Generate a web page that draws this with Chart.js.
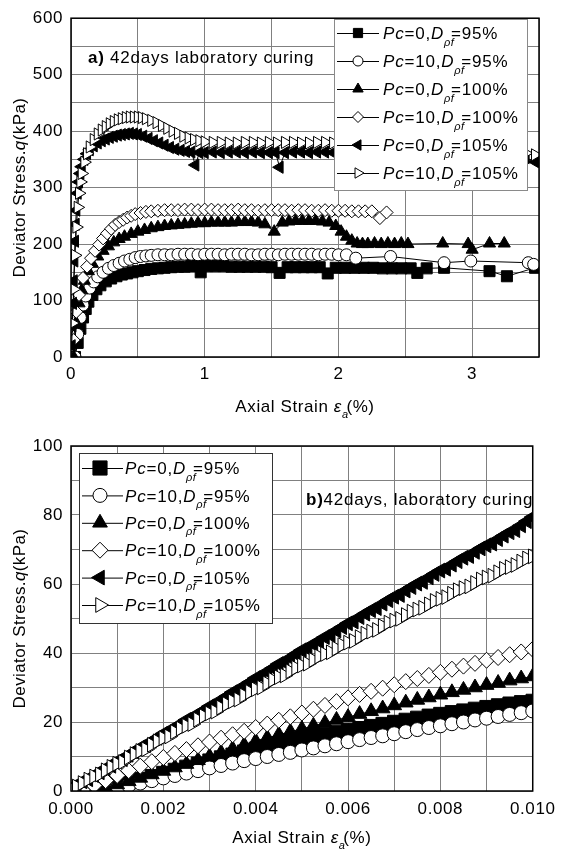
<!DOCTYPE html>
<html>
<head>
<meta charset="utf-8">
<script src="https://cdn.jsdelivr.net/npm/chart.js@4.4.1/dist/chart.umd.min.js"></script>
<style>
html, body { margin: 0; padding: 0; background: #fff; }
#wrap { position: relative; width: 562px; height: 849px; }
canvas { position: absolute; left: 0; }
</style>
</head>
<body>
<div id="wrap">
  <canvas id="chartA" width="562" height="425" style="top:0;width:562px;height:425px"></canvas>
  <canvas id="chartB" width="562" height="424" style="top:425px;width:562px;height:424px"></canvas>
</div>
<script>
// legend text pieces
const pcLabels = ['0', '10', '0', '10', '0', '10'];
const dLabels = ['95', '95', '100', '100', '105', '105'];

// ---- (a) full test, axial strain 0..3.5 % ----
const aX1 = [0.03,0.05,0.07,0.09,0.11,0.13,0.16,0.19,0.22,0.26,0.30,0.34,0.38,0.42,0.46,0.50,0.55,0.60,0.65,0.70,0.75,0.80,0.85,0.90,0.94,0.97,1.02,1.08,1.14,1.20,1.26,1.32,1.38,1.44,1.50,1.56,1.62,1.68,1.74,1.80,1.86,1.92,1.98,2.05,2.12,2.19,2.26,2.33,2.40,2.47,2.54,2.59,2.66,2.79,3.13,3.26,3.47];
const aQ1 = [0,25,50,70,85,98,110,120,127,134,139,143,146,148,150,152,154,156,157,158,159,160,160,161,161,150,161,161,161,160,160,160,160,160,159,149,159,159,159,159,159,148,158,158,158,158,158,157,157,157,157,149,157,158,152,143,158];

const aX2 = [0.03,0.05,0.07,0.09,0.11,0.14,0.17,0.20,0.24,0.28,0.32,0.36,0.40,0.44,0.48,0.52,0.56,0.60,0.65,0.70,0.75,0.80,0.85,0.90,0.95,1.00,1.05,1.10,1.15,1.20,1.25,1.30,1.35,1.40,1.45,1.50,1.55,1.60,1.65,1.70,1.75,1.80,1.85,1.90,1.95,2.00,2.06,2.13,2.39,2.79,2.99,3.42,3.46];
const aQ2 = [0,40,70,92,108,122,133,142,150,157,162,166,170,173,176,178,179,180,181,181,181,182,182,182,181,182,182,182,181,182,182,182,181,181,182,182,181,182,182,182,182,182,181,182,182,181,181,175,178,167,170,167,164];

const aX3 = [0.02,0.04,0.06,0.08,0.10,0.13,0.16,0.20,0.24,0.28,0.32,0.36,0.40,0.45,0.50,0.55,0.60,0.65,0.70,0.75,0.80,0.85,0.90,0.95,1.00,1.05,1.10,1.15,1.20,1.25,1.30,1.35,1.40,1.45,1.52,1.58,1.63,1.68,1.73,1.78,1.83,1.88,1.93,1.98,2.02,2.06,2.10,2.14,2.18,2.22,2.27,2.32,2.37,2.42,2.47,2.52,2.78,2.97,3.00,3.13,3.24];
const aQ3 = [0,60,95,118,135,152,165,178,188,196,203,209,213,218,222,225,228,230,232,233,234,235,236,237,237,238,238,238,238,239,239,239,238,235,222,238,240,241,241,241,241,240,238,232,222,213,206,201,200,200,201,200,201,200,201,200,201,200,190,201,201];

const aX4 = [0.02,0.04,0.06,0.09,0.12,0.15,0.18,0.21,0.24,0.27,0.30,0.33,0.36,0.39,0.42,0.45,0.48,0.52,0.56,0.60,0.65,0.70,0.75,0.80,0.85,0.90,0.95,1.00,1.05,1.10,1.15,1.20,1.25,1.30,1.35,1.40,1.45,1.50,1.55,1.60,1.65,1.70,1.75,1.80,1.85,1.90,1.95,2.00,2.05,2.10,2.15,2.20,2.25,2.31,2.36];
const aQ4 = [30,80,110,140,160,175,188,199,210,219,227,234,239,243,247,250,253,255,257,258,259,260,260,260,261,261,260,261,261,260,260,260,261,260,260,259,260,260,260,260,259,260,260,259,259,260,259,259,259,258,258,258,258,246,256];

const aX5 = [0.005,0.01,0.015,0.02,0.025,0.03,0.035,0.04,0.05,0.06,0.07,0.08,0.10,0.12,0.14,0.17,0.20,0.23,0.26,0.29,0.32,0.35,0.38,0.41,0.44,0.47,0.50,0.54,0.58,0.62,0.66,0.70,0.74,0.78,0.82,0.86,0.90,0.93,0.96,1.00,1.06,1.12,1.18,1.24,1.30,1.36,1.42,1.48,1.53,1.56,1.60,1.66,1.72,1.78,1.84,1.90,1.96,2.02,2.08,2.14,2.20,2.26,2.32,2.38,2.44,2.50,2.60,2.70,2.80,2.90,3.00,3.10,3.20,3.30,3.40,3.47];
const aQ5 = [20,55,95,135,170,205,235,260,290,310,325,337,350,360,367,374,379,383,386,389,391,393,394,395,396,395,394,391,387,383,379,375,371,368,366,364,363,340,362,362,363,362,363,363,362,363,362,362,362,336,362,363,363,362,363,363,362,362,363,362,362,363,362,362,362,362,362,361,361,360,360,359,358,356,353,346];

const aX6 = [0.01,0.02,0.03,0.04,0.05,0.06,0.07,0.08,0.10,0.12,0.14,0.17,0.20,0.23,0.26,0.29,0.32,0.35,0.38,0.41,0.44,0.47,0.50,0.53,0.56,0.60,0.64,0.68,0.72,0.76,0.80,0.84,0.88,0.92,0.96,1.00,1.06,1.12,1.18,1.24,1.30,1.36,1.42,1.48,1.54,1.60,1.66,1.72,1.78,1.84,1.90,1.96,2.02,2.08,2.14,2.20,2.26,2.32,2.38,2.44,2.50,2.60,2.70,2.80,2.90,3.00,3.10,3.20,3.30,3.40,3.47];
const aQ6 = [60,120,180,230,265,290,310,325,345,360,372,385,395,402,408,413,417,420,422,424,425,425,425,424,422,419,415,410,405,400,396,391,388,385,383,381,380,380,379,379,380,380,379,380,379,380,380,379,379,380,380,379,379,380,379,379,378,378,378,377,377,376,375,374,372,370,368,366,364,361,358];

// ---- (b) start of test, axial strain 0..0.010 % ----
const bStrain = [0,0.00025,0.0005,0.00075,0.001,0.00125,0.0015,0.00175,0.002,0.00225,0.0025,0.00275,0.003,0.00325,0.0035,0.00375,0.004,0.00425,0.0045,0.00475,0.005,0.00525,0.0055,0.00575,0.006,0.00625,0.0065,0.00675,0.007,0.00725,0.0075,0.00775,0.008,0.00825,0.0085,0.00875,0.009,0.00925,0.0095,0.00975,0.01];
// the two Dpf=105% tests were logged more often
const bStrainFine = [0,0.000125,0.00025,0.000375,0.0005,0.000625,0.00075,0.000875,0.001,0.001125,0.00125,0.001375,0.0015,0.001625,0.00175,0.001875,0.002,0.002125,0.00225,0.002375,0.0025,0.002625,0.00275,0.002875,0.003,0.003125,0.00325,0.003375,0.0035,0.003625,0.00375,0.003875,0.004,0.004125,0.00425,0.004375,0.0045,0.004625,0.00475,0.004875,0.005,0.005125,0.00525,0.005375,0.0055,0.005625,0.00575,0.005875,0.006,0.006125,0.00625,0.006375,0.0065,0.006625,0.00675,0.006875,0.007,0.007125,0.00725,0.007375,0.0075,0.007625,0.00775,0.007875,0.008,0.008125,0.00825,0.008375,0.0085,0.008625,0.00875,0.008875,0.009,0.009125,0.00925,0.009375,0.0095,0.009625,0.00975,0.009875,0.01];
const bQ1 = [0.2,0.9,1.7,2.5,3.4,4.3,5.2,6.1,7.0,7.9,8.8,9.7,10.5,11.4,12.2,13.0,13.8,14.5,15.2,15.8,16.4,17.0,17.6,18.2,18.8,19.4,20.0,20.6,21.2,21.8,22.3,22.8,23.3,23.8,24.3,24.8,25.3,25.7,26.1];
const bQ2 = [0.1,0.8,1.6,2.3,3.0,3.8,4.5,5.2,5.9,6.7,7.4,8.1,8.8,9.4,10.0,10.6,11.2,11.9,12.5,13.1,13.7,14.3,14.9,15.5,16.0,16.6,17.2,17.8,18.4,18.9,19.5,20.0,20.6,21.1,21.6,22.2,22.7,23.2];
const bQ3 = [0.2,1.0,1.9,2.8,3.8,4.8,5.8,6.8,7.8,8.9,10.0,11.1,12.2,13.3,14.4,15.4,16.3,17.2,18.0,18.9,19.7,20.6,21.4,22.3,23.1,23.9,24.8,25.6,26.4,27.1,27.9,28.6,29.3,30.0,30.7,31.3,32.0,32.6,33.2];
const bQ4 = [0.3,1.6,3.0,4.5,5.9,7.2,8.5,9.7,10.9,12.0,13.1,14.2,15.3,16.3,17.3,18.4,19.4,20.5,21.5,22.6,23.7,24.8,25.9,27.0,28.0,28.9,29.8,30.8,31.7,32.6,33.5,34.4,35.3,36.2,37.0,37.9,38.7,39.5,40.3,41.1];
const bQ5 = [1.0,1.6,2.8,3.4,4.6,5.4,6.6,7.3,8.6,9.2,10.5,11.4,12.6,13.2,14.5,15.4,16.6,17.2,18.5,19.3,20.6,21.2,22.4,23.3,24.5,25.1,26.4,27.4,28.6,29.2,30.5,31.5,32.7,33.3,34.6,35.6,36.8,37.3,38.6,39.7,40.8,41.3,42.6,43.4,44.6,45.2,46.5,47.5,48.6,49.1,50.4,51.4,52.4,53.0,54.3,55.3,56.3,56.8,58.1,59.1,60.1,60.6,61.9,62.9,63.9,64.4,65.6,66.6,67.6,68.1,69.3,70.3,71.2,71.7,73.0,74.0,75.0,75.6,77.0,78.2,79.4];
const bQ6 = [0.8,1.3,2.3,3.3,4.2,4.8,6.0,7.0,7.9,8.4,9.7,10.7,11.6,12.1,13.4,14.4,15.3,15.8,17.1,18.1,18.9,19.4,20.7,21.7,22.5,23.0,24.2,25.2,26.0,26.5,27.7,28.7,29.5,30.0,31.2,32.2,33.0,33.5,34.7,35.7,36.4,36.9,38.0,39.0,39.7,40.2,41.3,42.3,43.0,43.5,44.6,45.6,46.2,46.7,47.8,48.8,49.4,49.9,51.0,52.0,52.6,53.1,54.1,55.1,55.7,56.2,57.2,58.2,58.8,59.3,60.3,61.3,61.9,62.4,63.4,64.4,64.9,65.5,66.5,67.4,68.0];

const FONT = '"Liberation Sans", Arial, Helvetica, sans-serif';
Chart.defaults.font.family = FONT;
Chart.defaults.color = '#000';

const markers = [
    {shape: 'rect', fill: '#000', rot: 0},
    {shape: 'circle', fill: '#fff', rot: 0},
    {shape: 'triangle', fill: '#000', rot: 0},
    {shape: 'rectRot', fill: '#fff', rot: 0},
    {shape: 'triangle', fill: '#000', rot: -90},
    {shape: 'triangle', fill: '#fff', rot: 90}
];

function makeSets(xs, qs, sizes) {
    return qs.map((q, i) => ({
        data: q.map((v, k) => ({x: xs[i][k], y: v})),
        showLine: true,
        borderColor: '#000',
        borderWidth: 1,
        pointStyle: markers[i].shape,
        pointRotation: markers[i].rot,
        pointRadius: sizes[i],
        pointHoverRadius: sizes[i],
        pointBackgroundColor: markers[i].fill,
        pointBorderColor: '#000',
        pointBorderWidth: 1,
        order: 6 - i
    }));
}

function drawMark(ctx, i, x, y, r) {
    const m = markers[i];
    ctx.beginPath();
    if (m.shape === 'rect') {
        const s = r * Math.SQRT1_2;
        ctx.rect(x - s, y - s, 2 * s, 2 * s);
    } else if (m.shape === 'circle') {
        ctx.arc(x, y, r, 0, Math.PI * 2);
    } else if (m.shape === 'rectRot') {
        ctx.moveTo(x - r, y); ctx.lineTo(x, y - r); ctx.lineTo(x + r, y); ctx.lineTo(x, y + r);
        ctx.closePath();
    } else {
        let a = m.rot * Math.PI / 180;
        ctx.moveTo(x + Math.sin(a) * r, y - Math.cos(a) * r);
        for (let k = 0; k < 2; k++) {
            a += Math.PI * 2 / 3;
            ctx.lineTo(x + Math.sin(a) * r, y - Math.cos(a) * r);
        }
        ctx.closePath();
    }
    ctx.fillStyle = m.fill;
    ctx.fill();
    ctx.lineWidth = 1;
    ctx.strokeStyle = '#000';
    ctx.stroke();
}

// parts: [text, flags]; i = italic, b = bold, s = subscript
function drawRich(ctx, parts, x, y, size, sp, draw = true) {
    let cx = x;
    ctx.textBaseline = 'alphabetic';
    ctx.textAlign = 'left';
    parts.forEach(([t, f]) => {
        const sub = f.includes('s');
        const fs = sub ? Math.round(size * 0.62) : size;
        ctx.font = (f.includes('i') ? 'italic ' : '') + (f.includes('b') ? 'bold ' : '') + fs + 'px ' + FONT;
        ctx.letterSpacing = (sub ? sp * 0.4 : sp) + 'px';
        if (draw) {
            ctx.fillStyle = '#000';
            ctx.fillText(t, cx, sub ? y + size * 0.38 : y);
        }
        cx += ctx.measureText(t).width * (sub ? 0.7 : 1);
    });
    ctx.letterSpacing = '0px';
    return cx - x;
}

function labelParts(i) {
    return [['Pc', 'i'], ['=' + pcLabels[i] + ',', ''], ['D', 'i'], ['\u03C1f', 'is'], ['=' + dLabels[i] + '%', '']];
}

const xTitle = [['Axial Strain ', ''], ['\u03B5', 'i'], ['a', 'is'], ['(%)', '']];
const yTitle = [['Deviator Stress.', ''], ['q', 'i'], ['(kPa)', '']];

function framePlugin(cfg) {
    return {
        id: 'frame',
        beforeDraw(chart) {
            chart.ctx.letterSpacing = '0.6px';   // tick labels
        },
        afterDatasetsDraw(chart) {
            const ctx = chart.ctx, a = chart.chartArea;
            ctx.save();
            ctx.strokeStyle = '#000';
            ctx.lineWidth = 1.5;
            ctx.strokeRect(a.left, a.top, a.right - a.left, a.bottom - a.top);

            const L = cfg.legend;
            ctx.fillStyle = '#fff';
            ctx.fillRect(L.x, L.y, L.w, L.h);
            ctx.strokeStyle = L.color;
            ctx.lineWidth = 1;
            ctx.strokeRect(L.x + 0.5, L.y + 0.5, L.w, L.h);
            for (let i = 0; i < 6; i++) {
                const y = L.row0 + i * L.step;
                ctx.beginPath();
                ctx.moveTo(L.line0, y + 0.5);
                ctx.lineTo(L.line1, y + 0.5);
                ctx.strokeStyle = '#000';
                ctx.lineWidth = 1;
                ctx.stroke();
                drawMark(ctx, i, L.markX, y, L.sizes[i]);
                drawRich(ctx, labelParts(i), L.textX, y + L.font * 0.36, L.font, 0.8);
            }

            drawRich(ctx, cfg.note, cfg.noteX, cfg.noteY, 17, 0.75);

            // axis titles
            const tw = drawRich(ctx, xTitle, 0, 0, 17, 0.6, false);
            drawRich(ctx, xTitle, (a.left + a.right) / 2 - tw / 2, cfg.xTitleY, 17, 0.6);
            const th = drawRich(ctx, yTitle, 0, 0, 17, 0.4, false);
            ctx.translate(cfg.yTitleX, (a.top + a.bottom) / 2);
            ctx.rotate(-Math.PI / 2);
            drawRich(ctx, yTitle, -th / 2, 0, 17, 0.4);
            ctx.restore();
        }
    };
}

function axisOpts(min, max, step, fmt, pad, fixSize, isX) {
    return {
        type: 'linear',
        min: min,
        max: max,
        grid: {color: '#808080', lineWidth: 1, drawTicks: false},
        border: {display: false},
        ticks: {
            stepSize: step,
            autoSkip: false,
            maxRotation: 0,
            padding: pad,
            font: {size: 17},
            color: '#000',
            callback: fmt
        },
        afterFit(scale) {
            if (isX) scale.height = fixSize; else scale.width = fixSize;
        }
    };
}

function baseOptions(pad, xAxis, yAxis) {
    return {
        responsive: false,
        animation: false,
        devicePixelRatio: 1,
        layout: {padding: pad},
        plugins: {legend: {display: false}, tooltip: {enabled: false}},
        scales: {x: xAxis, y: yAxis}
    };
}

// chart (a)
new Chart(document.getElementById('chartA'), {
    type: 'scatter',
    data: {datasets: makeSets([aX1, aX2, aX3, aX4, aX5, aX6], [aQ1, aQ2, aQ3, aQ4, aQ5, aQ6], [7.8, 6, 7, 6.5, 7, 7])},
    options: baseOptions({top: 14, right: 23, left: 0, bottom: 0},
        axisOpts(0, 3.5, 0.5, v => Math.abs(v - Math.round(v)) < 1e-9 ? Math.round(v) : '', 7, 68, true),
        axisOpts(0, 600, 50, v => v % 100 === 0 ? v : '', 8, 71, false)),
    plugins: [framePlugin({
        legend: {x: 334, y: 19, w: 193, h: 171, color: '#8a8a8a', row0: 33, step: 28, line0: 337, line1: 379, markX: 358, textX: 383, font: 17, sizes: [6.5, 5, 6, 5.5, 6, 6]},
        note: [['a)', 'b'], [' 42days laboratory curing', '']],
        noteX: 88, noteY: 63,
        xTitleY: 412, yTitleX: 25
    })]
});

// chart (b)
const bXs = [bStrain.slice(2), bStrain.slice(3), bStrain.slice(2), bStrain.slice(1), bStrainFine, bStrainFine];
new Chart(document.getElementById('chartB'), {
    type: 'scatter',
    data: {datasets: makeSets(bXs, [bQ1, bQ2, bQ3, bQ4, bQ5, bQ6], [9.5, 7, 8.5, 8, 8.5, 8.5])},
    options: baseOptions({top: 21, right: 23, left: 0, bottom: 0},
        axisOpts(0, 0.01, 0.001, v => { const k = Math.round(v * 1000); return k % 2 === 0 ? (k / 1000).toFixed(3) : ''; }, 8, 58, true),
        axisOpts(0, 100, 10, v => v % 20 === 0 ? v : '', 8, 71, false)),
    plugins: [framePlugin({
        legend: {x: 79, y: 28, w: 193, h: 170, color: '#333', row0: 43, step: 27.4, line0: 82, line1: 123, markX: 100, textX: 125, font: 17, sizes: [10, 7, 8.5, 8, 8.5, 8.5]},
        note: [['b)', 'b'], ['42days, laboratory curing', '']],
        noteX: 306, noteY: 80,
        xTitleY: 418, yTitleX: 25
    })]
});
</script>
</body>
</html>
